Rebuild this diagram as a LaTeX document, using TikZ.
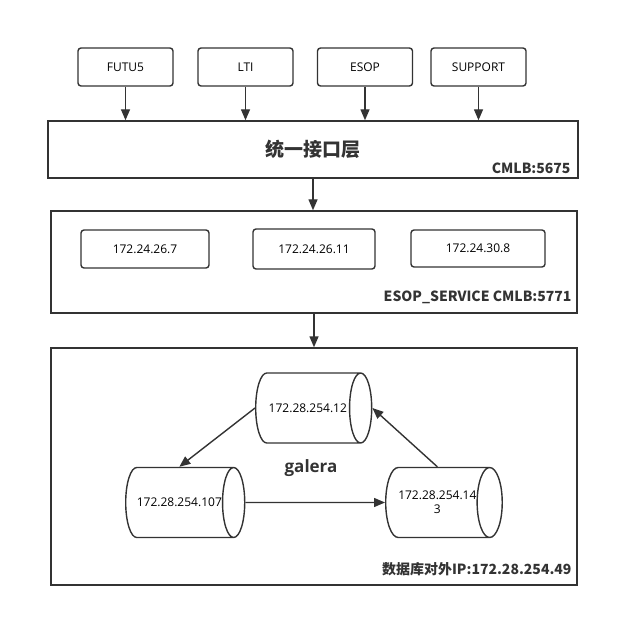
\documentclass[tikz,border=0pt]{standalone}
\usepackage{fontspec}
\setmainfont{Open Sans}
\newfontfamily\cjk{Noto Sans CJK SC}
\usetikzlibrary{arrows.meta,shapes.geometric,positioning}
\definecolor{linegray}{HTML}{333333}

\begin{document}
\begin{tikzpicture}[x=1pt,y=-1pt,
		client/.style={draw=linegray,line width=1.4pt,rounded corners=3pt,minimum width=95pt,minimum height=38pt,font=\fontsize{12}{14}\selectfont},
		layer/.style={draw=linegray,line width=1.4pt},
		host/.style={draw=linegray,line width=1.4pt,rounded corners=3pt,minimum height=38pt,font=\fontsize{12}{14}\selectfont},
		db/.style={draw=linegray,line width=1.4pt,cylinder,shape aspect=2.5,minimum width=70pt,minimum height=116pt,inner sep=0pt,align=center,anchor=west,font=\fontsize{12}{14}\selectfont},
		tag/.style={font=\cjk\bfseries\fontsize{14}{16}\selectfont,text=linegray,inner sep=2pt},
		flow/.style={draw=linegray,line width=1.4pt,-{Triangle[length=11pt,width=9pt]}}]
	
	\useasboundingbox (0,0) rectangle (639,620);
	
	% Clients
	\node[client] (futu) at (125.5,67) {FUTU5};
	\node[client] (lti) at (245.5,67) {LTI};
	\node[client] (esop) at (365,67) {ESOP};
	\node[client] (support) at (478.5,67) {SUPPORT};
	
	% Unified interface layer
	\node[layer,minimum width=530pt,minimum height=57pt] (iface) at (313,149.5) {};
	\node[font=\cjk\bfseries\fontsize{19}{21}\selectfont,text=linegray] at (iface.center) {统一接口层};
	\node[tag,above left=3pt and 6pt of iface.south east] {CMLB:5675};
	
	\foreach \c in {futu,lti,esop,support}
		\draw[flow] (\c.south) -- (\c.south |- iface.north);
	
	% ESOP service
	\node[layer,minimum width=526pt,minimum height=102pt] (service) at (314,262) {};
	\node[host,minimum width=128pt] (ipa) at (145,249) {172.24.26.7};
	\node[host,minimum width=122pt,minimum height=40pt] (ipb) at (314,249) {172.24.26.11};
	\node[host,minimum width=134pt,minimum height=37pt] (ipc) at (478,248.5) {172.24.30.8};
	\node[tag,above left=8pt and 4pt of service.south east] {ESOP\_SERVICE CMLB:5771};
	
	\draw[flow] (iface.south) -- (iface.south |- service.north);
	
	% Database cluster
	\node[layer,minimum width=526pt,minimum height=237pt] (cluster) at (314,466.5) {};
	\node[db] (dbtop) at (255,408) {172.28.254.12};
	\node[db] (dbleft) at (125,502.5) {172.28.254.107};
	\node[db,shape aspect=1.1] (dbright) at (385,502.5) {172.28.254.14\\3};
	\node[font=\bfseries\fontsize{17}{19}\selectfont,text=linegray] at (311,468) {galera};
	\node[tag,above left=8pt and 4pt of cluster.south east] {数据库对外IP:172.28.254.49};
	
	\draw[flow] (service.south) -- (service.south |- cluster.north);
	\draw[flow] (dbtop.west) -- (dbleft.north);
	\draw[flow] (dbleft.east) -- (dbright.west);
	\draw[flow] (dbright.north) -- (dbtop.east);
	
\end{tikzpicture}
\end{document}
